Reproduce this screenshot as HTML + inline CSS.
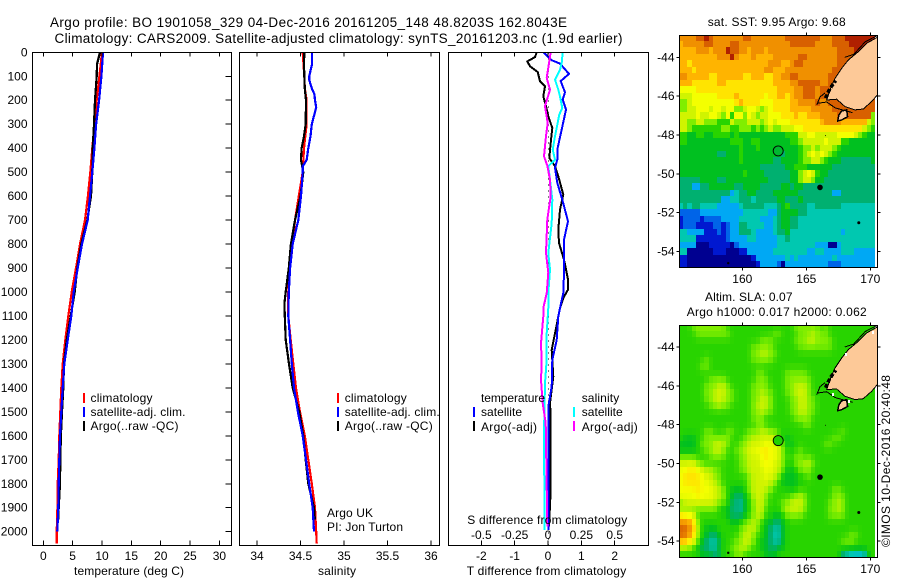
<!DOCTYPE html>
<html>
<head>
<meta charset="utf-8">
<title>Argo profile</title>
<style>
html,body{margin:0;padding:0;background:#fff;}
svg{display:block;font-family:"Liberation Sans",sans-serif;font-size:12px;fill:#000;}
.ax{fill:none;stroke:#000;stroke-width:1;shape-rendering:crispEdges;}
.ln{fill:none;shape-rendering:crispEdges;stroke-linejoin:miter;}
</style>
</head>
<body>
<svg id="fig" width="900" height="580" viewBox="0 0 900 580" xmlns="http://www.w3.org/2000/svg">
<rect x="0" y="0" width="900" height="580" fill="#fff"/>
<text x="50" y="27" font-size="13.5" textLength="517">Argo profile: BO 1901058_329 04-Dec-2016 20161205_148 48.8203S 162.8043E</text>
<text x="54.5" y="43" font-size="13.5" textLength="568">Climatology: CARS2009. Satellite-adjusted climatology: synTS_20161203.nc (1.9d earlier)</text>

<g id="p1"></g>
<g id="p2"></g>
<g id="p3"></g>
<g id="m1"></g>
<g id="m2"></g>

<text x="74" y="575" textLength="110">temperature (deg C)</text>
<text x="318" y="575" textLength="38">salinity</text>
<text x="466.7" y="575" textLength="159.5">T difference from climatology</text>
<text x="467.3" y="524" textLength="160">S difference from climatology</text>

<g>
<rect x="83" y="393" width="2" height="10" fill="#f00"/>
<rect x="83" y="407" width="2" height="10" fill="#00f"/>
<rect x="83" y="421" width="2" height="10" fill="#000"/>
<text x="90.5" y="402" textLength="62">climatology</text>
<text x="90.5" y="416" textLength="95">satellite-adj. clim.</text>
<text x="90.5" y="430" textLength="88">Argo(..raw -QC)</text>
</g>
<g>
<rect x="337" y="393" width="2" height="10" fill="#f00"/>
<rect x="337" y="407" width="2" height="10" fill="#00f"/>
<rect x="337" y="421" width="2" height="10" fill="#000"/>
<text x="344.7" y="402" textLength="62">climatology</text>
<text x="344.7" y="416" textLength="95">satellite-adj. clim.</text>
<text x="344.7" y="430" textLength="88">Argo(..raw -QC)</text>
</g>
<text x="327" y="517" textLength="46">Argo UK</text>
<text x="327" y="531" textLength="76">PI: Jon Turton</text>
<g>
<text x="481" y="402" textLength="64">temperature</text>
<text x="481" y="416" textLength="41">satellite</text>
<text x="481" y="431" textLength="56">Argo(-adj)</text>
<text x="581.7" y="402" textLength="37.5">salinity</text>
<text x="581.7" y="416" textLength="41">satellite</text>
<text x="581.7" y="431" textLength="56">Argo(-adj)</text>
<rect x="473" y="407" width="2" height="10" fill="#00f"/>
<rect x="473" y="421" width="2" height="10" fill="#000"/>
<rect x="573" y="407" width="2" height="10" fill="#0ff"/>
<rect x="573" y="421" width="2" height="10" fill="#f0f"/>
</g>

<text x="707.7" y="26" textLength="138">sat. SST: 9.95 Argo: 9.68</text>
<text x="705" y="301" textLength="87.5">Altim. SLA: 0.07</text>
<text x="686.7" y="316" textLength="180">Argo h1000: 0.017 h2000: 0.062</text>
<text transform="translate(890,547) rotate(-90)" x="0" y="0" textLength="172">©IMOS 10-Dec-2016 20:40:48</text>
</svg>
<script>
// ---------- chart data ----------
const tempTicks = [0,5,10,15,20,25,30];
const salTicks = [34,34.5,35,35.5,36];
const depthTicks = [0,100,200,300,400,500,600,700,800,900,1000,1100,1200,1300,1400,1500,1600,1700,1800,1900,2000];
const tDiffTicks = [-2,-1,0,1,2];
const sDiffTicks = [-0.5,-0.25,0,0.25,0.5];
const lonTicks = [160,165,170];
const latTicks = [-44,-46,-48,-50,-52,-54];

const tempClimDepth = [0,100,200,300,400,500,600,700,800,900,1000,1100,1200,1300,1400,1500,1600,1700,1800,1900,2000,2050];
const tempClim = [10.0,9.55,9.1,8.7,8.35,8.0,7.6,7.1,6.25,5.57,4.84,4.26,3.75,3.3,3.07,2.9,2.73,2.62,2.45,2.4,2.28,2.3];
const tempSatDepth = [0,100,200,300,400,500,600,700,800,900,1000,1100,1200,1300,1400,1500,1600,1700,1800,1900,2000];
const tempSat = [10.17,9.9,9.5,9.0,8.7,8.35,7.96,7.56,6.6,5.86,5.18,4.77,4.15,3.58,3.3,3.07,2.85,2.73,2.62,2.56,2.39];
const tempArgoDepth = [0,50,100,200,300,400,500,600,700,800,900,1000,1100,1200,1300,1400,1500,1600,1700,1800,1900,1950];
const tempArgo = [9.66,9.15,9.1,8.8,8.64,8.41,8.35,8.13,7.5,6.47,5.8,5.35,4.67,3.99,3.53,3.41,3.19,3.0,2.9,2.85,2.62,2.55];

const salClimDepth = [0,100,150,200,300,400,500,600,700,800,900,1000,1100,1200,1300,1400,1500,1600,1700,1800,1900,2000,2050];
const salClim = [34.525,34.544,34.55,34.57,34.57,34.54,34.525,34.48,34.437,34.41,34.38,34.36,34.36,34.387,34.417,34.448,34.494,34.55,34.59,34.63,34.667,34.68,34.686];
const salSatDepth = [0,50,100,115,150,175,200,230,300,350,400,450,475,500,600,700,800,900,1000,1100,1200,1300,1400,1500,1600,1700,1800,1900,2000];
const salSat = [34.632,34.632,34.6,34.6,34.63,34.66,34.667,34.68,34.63,34.615,34.59,34.57,34.525,34.525,34.506,34.475,34.41,34.38,34.365,34.36,34.38,34.40,34.425,34.47,34.525,34.563,34.6,34.64,34.655];
const salArgoDepth = [0,50,100,150,200,300,350,400,450,500,600,700,800,900,1000,1050,1100,1200,1300,1400,1500,1600,1700,1800,1900,1950];
const salArgo = [34.544,34.54,34.544,34.55,34.563,34.56,34.54,34.513,34.506,34.532,34.5,34.437,34.39,34.365,34.33,34.315,34.32,34.33,34.368,34.41,34.486,34.532,34.56,34.59,34.655,34.665];

const tDiffArgoDepth = [0,20,38,58,82,120,142,184,225,267,316,378,441,475,517,594,656,740,795,865,948,990,1025,1067,1172,1242,1353,1464,1520,1659,1826,1979];
const tDiffArgo = [-0.34,-0.39,-0.62,-0.54,-0.31,-0.24,-0.09,-0.14,-0.06,0.01,0.13,0.08,0.04,0.21,0.31,0.46,0.36,0.31,0.33,0.48,0.6,0.6,0.46,0.36,0.21,0.11,0.16,0.06,0.08,0.08,0.08,0.03];
const tDiffSatDepth = [0,33,47,90,120,167,197,239,322,406,448,482,545,615,705,782,920,1004,1067,1102,1200,1283,1394,1478,1729,1993];
const tDiffSat = [-0.14,0.11,0.36,0.63,0.38,0.51,0.44,0.54,0.41,0.28,0.28,0.21,0.28,0.43,0.6,0.48,0.48,0.46,0.36,0.31,0.26,0.13,0.11,0.01,0.01,0.01];
const sDiffSatDepth = [0,45,72,114,156,184,232,260,350,406,448,475,531,615,712,837,907,1004,1067,1172,1283,1380,1589,1798,1993];
const sDiffSat = [0.11,0.1025,0.09,0.0525,0.0775,0.09,0.1075,0.085,0.0525,0.035,0.0525,0.0025,0.015,0.0325,0.0275,0.0025,0.015,0.0025,0.0025,-0.01,-0.01,-0.0225,-0.03,-0.0275,-0.0275];
const sDiffArgoDepth = [0,45,107,156,225,295,350,434,473,531,601,698,837,920,1004,1067,1102,1214,1297,1367,1464,1547,1812,1979];
const sDiffArgo = [0.02,0.0075,-0.01,0.015,-0.0225,-0.0025,-0.015,-0.03,-0.005,0.015,0.02,-0.005,-0.015,0.0025,-0.01,-0.035,-0.035,-0.0525,-0.0475,-0.0525,-0.04,-0.0175,-0.01,-0.005];

// heatmap rows: one hex colour level per 1/3 degree cell
const sstRows = [
"ddddeefedd dddddeeddd dddddeeeee eeedddeeef ffffff",
"cdddddeedd ddeedddddd ddddddeeee eeddddeeee ffffff",
"ccccdddcdd dfeeddcddd cddddddddd dddddddeee efffff",
"cccccccccd ddfdcccdcc ccddddddee dddddddeee eeeeff",
"ccbccccccc cccccccccc cdddccdeed dddddddeee eeeeee",
"cccbcccccc cccccccccc ddcccddddd ddddddeeee eeeeee",
"ddcccccbbc cccccbbccc bbccddeedd dddddeeeee eeeeee",
"cccbbbbbbc cbbbbbbbbb bbccccddee eeeddeeeee eeeeee",
"aaaabbbbbb bbbbbbbbbb bbbccccdde eedeeeeeee eeeeee",
"999aaaaaab bbbcbbbbbb abbccbcdde eedeeeeeee eeeeee",
"889aaaaaaa aaabcbbbba aabbbbccdd ddeddeeeee eeeeee",
"8899aaa9aa 9aa889aa98 9abbbbcccc cdddddeeee eeeeee",
"9999a99aa9 8a7aa8a989 9aaabbbcbb cccddddeee eeeee8",
"9988998887 7798889998 9a9aaabbbb bbbcddddcc cccc98",
"9987777777 8877888787 8988999aab bbbbbbbbbb bbb987",
"7766776677 7767666666 6666677799 aa99999aaa a98766",
"7766666666 6677766776 6666667789 9999a99977 666666",
"6666666666 6666766676 6666666678 8989998766 666666",
"6666666665 5666766666 6666566678 9a9a987666 666666",
"6666666666 6666766666 6655666678 8998766655 555556",
"6666666666 6666666665 5555566777 6666665555 555555",
"6666666666 6666676666 5555556689 a976655555 555555",
"5555566665 5666666666 6555556689 9866555555 555555",
"5553355666 6665566665 5555665665 5555555555 555555",
"5555555555 5534556655 5566666655 5555553355 555555",
"5555555555 3344555455 5556655565 5555555555 555555",
"4545544443 3333455555 4445675555 4455555544 444444",
"2222233333 3333344444 4335666655 4444444444 444444",
"1222212222 3333444443 3345665544 4444444444 444444",
"1222111122 1233554444 3345665544 4444444444 444444",
"4433331112 1233555433 3345564444 4444444434 444444",
"4444111111 1233334433 3334454444 4444444444 444444",
"3333000111 1102333333 3334444444 4433300344 444444",
"4400000011 1000113333 3344444444 3344333344 433333",
"1100000000 0000000133 3333343433 3333334333 333333",
"1100000000 0000000013 3332033333 3333322233 333333"
];
const slaRows = [
"7778888888 8777777777 7777777888 8887877777 777777",
"7777888888 8877777777 7788777788 8988877777 777777",
"7777777777 7777777778 8877777888 9988887777 777777",
"7777777777 7777777888 8877777788 8888887777 777777",
"7777777777 7777777889 9887777777 7777777777 777777",
"7777778777 7777777888 8877777777 7777777777 777777",
"7777788777 7777777777 7777777777 7777777777 777777",
"7777777777 7777777788 7777788888 7777777777 777777",
"7777777888 8777777788 8777788888 8777777777 777777",
"7777778889 9877777888 8777788999 8777777777 777777",
"7777778899 9887777889 8877788999 8777777777 777777",
"7777778899 9887777889 9877778899 8877777777 777777",
"7777777889 8877777899 9877778899 8877777777 777777",
"7777777777 7777777889 8877778899 8877777777 777777",
"7777777777 7777777888 7777777888 8777777777 777777",
"7777777777 7777777788 7777777778 8777777777 777777",
"7777778877 7887778889 9887777777 7777777787 777777",
"7666778888 8877788999 9998667777 7777778877 777777",
"6666788899 9877889999 aa99866777 7777887777 777777",
"6666778899 8778899aab baa9877787 7777777777 777777",
"8888777888 877788999a baa9877887 8777777777 777777",
"9999887777 777788999a aa99877889 9877777777 777777",
"aabba99988 7777889999 aa99866788 8777777777 777777",
"abbbba9988 7777778999 a998666677 8777777777 777777",
"abbbbaa998 7777778999 9987666677 7777777777 777777",
"aaaabaaa99 8766678999 9877776777 7777778877 777777",
"aaaabaaa99 8765567999 8777778898 7777778887 777777",
"8999999998 8755467899 8777889998 7777788987 777777",
"8888888887 6655467899 7777899998 7777788987 777777",
"baa9777777 7655567899 7766788887 7777788887 777777",
"dddb877777 7766788987 6655677777 7777777777 777777",
"eedc876667 7777889987 6544677777 7777777777 777777",
"eedb876556 7777899877 6544677777 7777777777 887777",
"ccb9865445 7778899876 6544677777 7777777788 877777",
"8887655446 7788998776 6556677777 7777777777 777777",
"7777766655 7778877777 6667777777 7777777744 333377"
];
const palette = [[0,0,144],[0,24,208],[0,100,232],[0,168,244],[0,200,176],[0,176,112],[0,192,32],[40,212,0],[128,238,0],[208,244,0],[244,255,0],[255,228,0],[255,180,0],[240,144,0],[216,96,0],[176,32,0]];

// coastline in lon/lat
const coastLon = [170.55,169.71,169.06,168.28,167.76,167.24,166.85,166.59,167.37,168.02,168.8,169.45,170.1,170.55];
const coastLat = [-42.97,-43.28,-43.71,-44.14,-44.57,-45.08,-45.68,-46.2,-46.16,-46.54,-46.71,-46.66,-46.28,-45.94];
const stewartLon = [167.76,168.15,168.23,167.76,167.45,167.55];
const stewartLat = [-46.77,-46.71,-47.06,-47.23,-47.28,-46.97];
const westLineLon = [165.81,166.07,166.46];
const westLineLat = [-46.46,-46.04,-45.84];
const southLineLon = [165.9,166.6,167.24,167.76,168.6];
const southLineLat = [-46.37,-46.3,-46.6,-46.7,-46.85];
const northLineLon = [168.0,168.7,169.6,170.5];
const northLineLat = [-44.0,-43.85,-43.2,-42.9];
const fiordLon = [166.5,166.85,167.3];
const fiordLat = [-46.1,-45.6,-45.2];
const islandLon = [166.07,169.1,158.9,166.5];
const islandLat = [-50.7,-52.52,-54.6,-48.03];
const islandSize = [2.8,1.5,1.2,0.5];
const slaGapLon = [168.02,170.1,166.98,168.28];
const slaGapLat = [-44.33,-43.16,-46.39,-46.73];
const argoLon = 162.8043;
const argoLat = -48.8203;

// ---------- helpers ----------
const NS = 'http://www.w3.org/2000/svg';
function mk(tag, parent, attrs){
  const e = document.createElementNS(NS, tag);
  for (const k in attrs) e.setAttribute(k, attrs[k]);
  parent.appendChild(e);
  return e;
}
function tickLine(parent, x1, y1, x2, y2){
  const t = mk('line', parent, {x1:x1, y1:y1, x2:x2, y2:y2, class:'ax'});
  
  
}
function tickText(parent, x, y, anchor, str){
  const t = mk('text', parent, {x:x, y:y, 'text-anchor':anchor});
  t.textContent = str;
  
  
}
function frame(parent, x0, y0, x1, y1){
  const r = mk('rect', parent, {x:x0, y:y0, width:x1-x0, height:y1-y0, class:'ax'});
  
  
}
const yDepth = d => 52.3 + d * 0.2397;
const TOP = 52.5, BOT = 545.5;
function curve(parent, xs, ds, xf, color, name, w){
  const pts = xs.map((v, i) => xf(v).toFixed(1) + ',' + yDepth(ds[i]).toFixed(1)).join(' ');
  const l = mk('polyline', parent, {points:pts, class:'ln', stroke:color, 'stroke-width':w});
  
  
}

// ---------- temperature ----------
const xT = v => 43.3 + v * 5.87;
const p1 = document.getElementById('p1');
curve(p1, tempClim, tempClimDepth, xT, '#f00', 'temperature-climatology-line', 2.2);
curve(p1, tempArgo, tempArgoDepth, xT, '#000', 'temperature-argo-line', 2.2);
curve(p1, tempSat, tempSatDepth, xT, '#00f', 'temperature-satellite-line', 2.2);
frame(p1, 32.5, TOP, 231.5, BOT);
tempTicks.forEach(v => {
  tickLine(p1, xT(v), TOP, xT(v), TOP + 4);
  tickLine(p1, xT(v), BOT, xT(v), BOT - 5);
  tickText(p1, xT(v), 560, 'middle', String(v));
});
depthTicks.forEach(d => {
  tickLine(p1, 225.5, yDepth(d), 231.5, yDepth(d));
  tickText(p1, 27.5, yDepth(d) + 4, 'end', String(d));
});

// ---------- salinity ----------
const xS = v => 257 + (v - 34) * 87;
const p2 = document.getElementById('p2');
curve(p2, salClim, salClimDepth, xS, '#f00', 'salinity-climatology-line', 2.2);
curve(p2, salArgo, salArgoDepth, xS, '#000', 'salinity-argo-line', 2.2);
curve(p2, salSat, salSatDepth, xS, '#00f', 'salinity-satellite-line', 2.2);
frame(p2, 239.5, TOP, 439.5, BOT);
salTicks.forEach(v => {
  tickLine(p2, xS(v), TOP, xS(v), TOP + 4);
  tickLine(p2, xS(v), BOT, xS(v), BOT - 5);
  tickText(p2, xS(v), 560, 'middle', String(v));
});

// ---------- differences ----------
const xTd = v => 548 + v * 33.35;
const xSd = v => 548 + v * 133.4;
const p3 = document.getElementById('p3');
const zero = mk('line', p3, {x1:548.5, y1:TOP, x2:548.5, y2:BOT, stroke:'#000', 'stroke-width':1, 'stroke-dasharray':'1 5', 'shape-rendering':'crispEdges'});


curve(p3, tDiffArgo, tDiffArgoDepth, xTd, '#000', 't-diff-argo-line', 2);
curve(p3, tDiffSat, tDiffSatDepth, xTd, '#00f', 't-diff-satellite-line', 2);
curve(p3, sDiffSat, sDiffSatDepth, xSd, '#0ff', 's-diff-satellite-line', 2);
curve(p3, sDiffArgo, sDiffArgoDepth, xSd, '#f0f', 's-diff-argo-line', 2);
frame(p3, 448.5, TOP, 648.5, BOT);
tDiffTicks.forEach(v => {
  tickLine(p3, xTd(v), TOP, xTd(v), TOP + 4);
  tickLine(p3, xTd(v), BOT, xTd(v), BOT - 5);
  tickText(p3, xTd(v), 560, 'middle', String(v));
});
sDiffTicks.forEach(v => {
  tickText(p3, xSd(v), 539, 'middle', String(v));
});

// ---------- maps ----------
function levelAt(grid, r, c, smooth){
  const rr = Math.min(grid.length - 1, Math.max(0, r));
  const cc = Math.min(grid[0].length - 1, Math.max(0, c));
  if (!smooth) return parseInt(grid[rr][cc], 16);
  let sum = 0, wt = 0;
  for (let i = -1; i <= 1; i++) {
    for (let j = -1; j <= 1; j++) {
      const w = (i === 0 ? 3 : 1) * (j === 0 ? 3 : 1);
      sum += w * levelAt(grid, r + i, c + j, false);
      wt += w;
    }
  }
  return sum / wt;
}
function colourOf(level){
  const a = Math.min(14, Math.floor(level));
  const t = level - a;
  const p = palette[a], q = palette[a + 1];
  return 'rgb(' + [0,1,2].map(k => Math.round(p[k] + (q[k] - p[k]) * t)).join(',') + ')';
}
function drawMap(id, rows, yTop, lat44, labelY, circleFill, name, smooth){
  const g = document.getElementById(id);
  const xL = lon => 742.3 + (lon - 160) * 12.8;
  const yL = lat => lat44 + (-44 - lat) * 19.42;
  const x0 = 679.5, x1 = 877.5, y0 = yTop + 0.5, y1 = yTop + 232.5;
  const lon0 = 155.08, lat0 = -44 + (lat44 - yTop) / 19.42;
  const clip = mk('clipPath', g, {id:id + '-clip'});
  mk('rect', clip, {x:x0, y:y0, width:x1 - x0, height:y1 - y0});
  const body = mk('g', g, {'clip-path':'url(#' + id + '-clip)'});
  const grid = rows.map(row => row.replace(/ /g, ''));
  grid.forEach((cells, r) => {
    const ya = Math.floor(yL(lat0 - r / 3));
    const yb = Math.floor(yL(lat0 - (r + 1) / 3));
    for (let c = 0; c < cells.length; c++) {
      const xa = Math.floor(xL(lon0 + c / 3));
      const xb = Math.floor(xL(lon0 + (c + 1) / 3));
      const cell = mk('rect', body, {x:xa, y:ya, width:xb - xa, height:yb - ya, fill:colourOf(levelAt(grid, r, c, smooth))});
      
      
    }
  });
  const path = (lons, lats) => lons.map((v, i) => xL(v).toFixed(1) + ',' + yL(lats[i]).toFixed(1)).join(' ');
  const land = mk('polygon', body, {points:path(coastLon, coastLat), fill:'#fdc998', stroke:'#000', 'stroke-width':1, 'shape-rendering':'crispEdges'});
  
  
  const stewart = mk('polygon', body, {points:path(stewartLon, stewartLat), fill:'#fdc998', stroke:'#000', 'stroke-width':1.5, 'shape-rendering':'crispEdges'});
  
  
  [[westLineLon, westLineLat, 1, 'none', 'west-coast-line'], [southLineLon, southLineLat, 1, 'none', 'south-coast-line'], [northLineLon, northLineLat, 1, 'none', 'north-coast-line'], [fiordLon, fiordLat, 3.5, '4 2', 'fiordland-coast']].forEach(s => {
    const l = mk('polyline', body, {points:path(s[0], s[1]), fill:'none', stroke:'#000', 'stroke-width':s[2], 'stroke-dasharray':s[3], 'shape-rendering':'crispEdges'});
    
    
  });
  islandLon.forEach((lon, i) => {
    const isl = mk('circle', body, {cx:xL(lon), cy:yL(islandLat[i]), r:islandSize[i], fill:'#000'});
    
    
  });
  if (smooth) {
    slaGapLon.forEach((lon, i) => {
      const gap = mk('rect', body, {x:Math.round(xL(lon)), y:Math.round(yL(slaGapLat[i])), width:2, height:3, fill:'#fff'});
      
      
    });
  }
  const mark = mk('circle', body, {cx:xL(argoLon), cy:yL(argoLat), r:5, fill:circleFill, stroke:'#000', 'stroke-width':0.9});
  
  
  frame(g, x0, y0, x1, y1);
  lonTicks.forEach(v => {
    tickLine(g, xL(v), y0 - 3, xL(v), y0);
    tickLine(g, xL(v), y1, xL(v), y1 + 3);
    tickText(g, xL(v), labelY, 'middle', String(v));
  });
  latTicks.forEach(v => {
    tickLine(g, x0 - 3, yL(v), x0, yL(v));
    tickLine(g, x1, yL(v), x1 + 3, yL(v));
    tickText(g, 674.5, yL(v) + 4, 'end', String(v));
  });
}
drawMap('m1', sstRows, 35, 57.3, 283, '#00b830', 'sst', false);
drawMap('m2', slaRows, 325, 347, 573, '#20d000', 'sla', true);
</script>
</body>
</html>
